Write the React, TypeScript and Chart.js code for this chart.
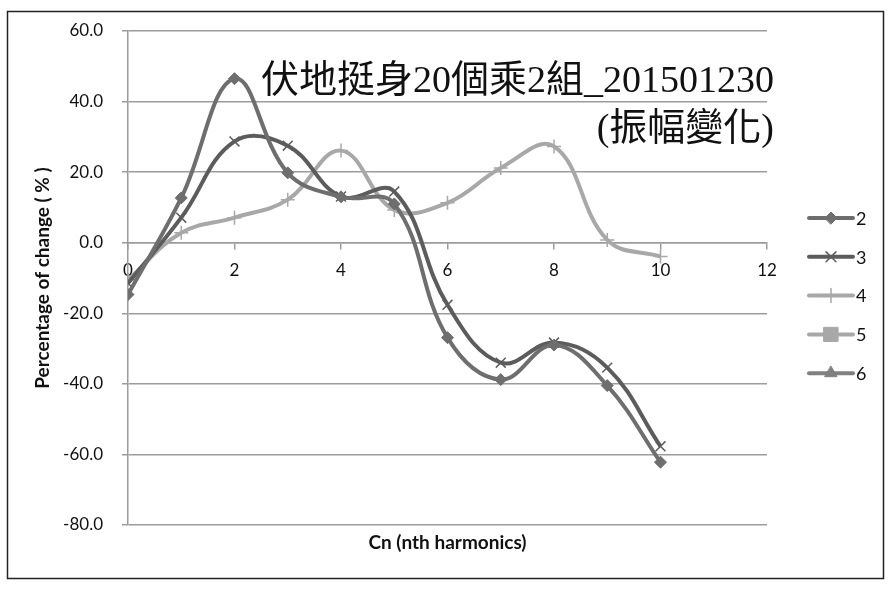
import { useEffect, useRef } from "react";
import { Chart, registerables } from "chart.js";
import { drawPoint } from "chart.js/helpers";

Chart.register(...registerables);

// ---- data ----
const harmonics = [0, 1, 2, 3, 4, 5, 6, 7, 8, 9, 10];
const seriesNames = ["2", "3", "4", "5", "6"];
const series2 = [-14.7, 12.7, 46.5, 19.8, 13.0, 11.0, -26.9, -38.8, -29.0, -40.5, -62.2];
const series3 = [-11.5, 7.1, 28.7, 27.5, 13.1, 14.5, -17.6, -34.0, -28.3, -35.4, -57.7];
const series4 = [-10.5, 2.8, 7.1, 12.2, 26.1, 9.3, 11.3, 21.2, 27.3, 0.8, -3.9];
const series5: number[] = [];
const series6: number[] = [];
const xTickStep = 2;
const xMin = 0;
const xMax = 12;
const yTickStep = 20;
const yMin = -80;
const yMax = 60;
const titleLines = ["伏地挺身20個乘2組_201501230", "(振幅變化)"];
const xAxisTitle = "Cn (nth harmonics)";
const yAxisTitle = "Percentage of change ( % )";

const seriesValues = [series2, series3, series4, series5, series6];
const seriesColors = ["#6e6e6e", "#5c5c5c", "#a8a8a8", "#a8a8a8", "#808080"];
const seriesPointStyles = ["rectRot", "crossRot", "cross", "rect", "triangle"];
const seriesPointRadius = [6, 7, 7, 6, 7];
const seriesPointBorder = [1, 1.5, 1.5, 1, 1];

const FONT = "Lato, 'Open Sans', sans-serif";
const GRID = "#9c9c9c";

const bgBorderPlugin = {
  id: "bgBorder",
  beforeDraw(chart: any) {
    const { ctx, width, height } = chart;
    ctx.save();
    ctx.fillStyle = "#ffffff";
    ctx.fillRect(0, 0, width, height);
    ctx.strokeStyle = "#222222";
    ctx.lineWidth = 1.5;
    ctx.strokeRect(7.5, 11.5, width - 18, height - 26);
    ctx.restore();
  },
};

const titlePlugin = {
  id: "cjkTitle",
  afterDraw(chart: any) {
    const { ctx, chartArea } = chart;
    ctx.save();
    ctx.fillStyle = "#111111";
    ctx.textAlign = "right";
    ctx.textBaseline = "middle";
    ctx.font = "38px 'Liberation Serif', 'Noto Sans CJK TC'";
    const right = chartArea.right + 7;
    ctx.fillText(titleLines[0], right, chartArea.top + 51);
    ctx.fillText(titleLines[1], right, chartArea.top + 99);
    ctx.restore();
  },
};

const legendPlugin = {
  id: "sideLegend",
  afterDraw(chart: any) {
    const { ctx, chartArea } = chart;
    const x0 = chartArea.right + 42;
    const x1 = chartArea.right + 86;
    const y0 = 218;
    const gap = 38.8;
    ctx.save();
    chart.data.datasets.forEach((ds: any, i: number) => {
      const y = y0 + i * gap;
      ctx.strokeStyle = ds.borderColor;
      ctx.lineWidth = 4;
      ctx.lineCap = "round";
      ctx.beginPath();
      ctx.moveTo(x0, y);
      ctx.lineTo(x1, y);
      ctx.stroke();
      ctx.fillStyle = ds.borderColor;
      ctx.strokeStyle = ds.borderColor;
      ctx.lineWidth = ds.pointBorderWidth;
      drawPoint(ctx, { pointStyle: ds.pointStyle, radius: ds.pointStyle === "rect" ? 10 : ds.pointRadius, rotation: 0, borderWidth: ds.pointBorderWidth } as any, (x0 + x1) / 2, y);
      ctx.fillStyle = "#111111";
      ctx.font = `18px ${FONT}`;
      ctx.textAlign = "left";
      ctx.textBaseline = "middle";
      ctx.fillText(ds.label, x1 + 3, y + 1);
    });
    ctx.restore();
  },
};

export default function App() {
  const ref = useRef<HTMLCanvasElement | null>(null);
  useEffect(() => {
    if (!ref.current) return;
    const datasets = seriesNames.map((name, i) => ({
      label: name,
      data: seriesValues[i].map((v, j) => ({ x: harmonics[j], y: v })),
      borderColor: seriesColors[i],
      backgroundColor: seriesColors[i],
      borderWidth: 4,
      pointStyle: seriesPointStyles[i],
      pointRadius: seriesPointRadius[i],
      pointBorderWidth: seriesPointBorder[i],
      pointBackgroundColor: seriesColors[i],
      pointBorderColor: seriesColors[i],
      tension: 0.4,
      fill: false,
      xAxisID: "x",
      yAxisID: "y",
    }));
    const chart = new Chart(ref.current, {
      type: "line",
      data: { datasets: datasets as any },
      options: {
        responsive: false,
        animation: false,
        devicePixelRatio: 1,
        layout: { padding: { top: 31, right: 127, bottom: 28, left: 0 } },
        plugins: { legend: { display: false }, tooltip: { enabled: false }, title: { display: false } },
        scales: {
          x: {
            type: "linear",
            position: { y: 0 } as any,
            min: xMin,
            max: xMax,
            ticks: { stepSize: xTickStep, color: "#111", font: { family: FONT, size: 17 }, padding: 12, maxRotation: 0, autoSkip: false },
            grid: { drawOnChartArea: false, drawTicks: true, tickLength: 6, color: GRID, lineWidth: 1.5 },
            border: { display: true, color: GRID, width: 1.5 },
          },
          xTitle: {
            type: "linear",
            axis: "x",
            position: "bottom",
            min: xMin,
            max: xMax,
            ticks: { display: false },
            grid: { display: false },
            border: { display: false },
            title: { display: true, text: xAxisTitle, color: "#111", font: { family: FONT, size: 19, weight: "bold" }, padding: { top: 0, bottom: 11 } },
            afterFit: (s: any) => { s.height = 40; },
          } as any,
          y: {
            type: "linear",
            position: "left",
            min: yMin,
            max: yMax,
            ticks: { stepSize: yTickStep, color: "#111", font: { family: FONT, size: 17 }, padding: 19, callback: (v: any) => Number(v).toFixed(1) },
            grid: { color: GRID, lineWidth: 1.5, tickLength: 6 },
            border: { display: true, color: GRID, width: 1.5 },
            title: { display: true, text: yAxisTitle, color: "#111", font: { family: FONT, size: 19, weight: "bold" }, padding: { top: 31, bottom: 0 } },
            afterFit: (s: any) => { s.width = 128; },
          } as any,
        },
      },
      plugins: [bgBorderPlugin, titlePlugin, legendPlugin],
    });
    return () => chart.destroy();
  }, []);
  return (
    <div style={{ position: "fixed", left: 0, top: 0, width: 894, height: 593, background: "#fff" }}>
      <canvas ref={ref} width={894} height={593} style={{ display: "block" }} />
    </div>
  );
}
